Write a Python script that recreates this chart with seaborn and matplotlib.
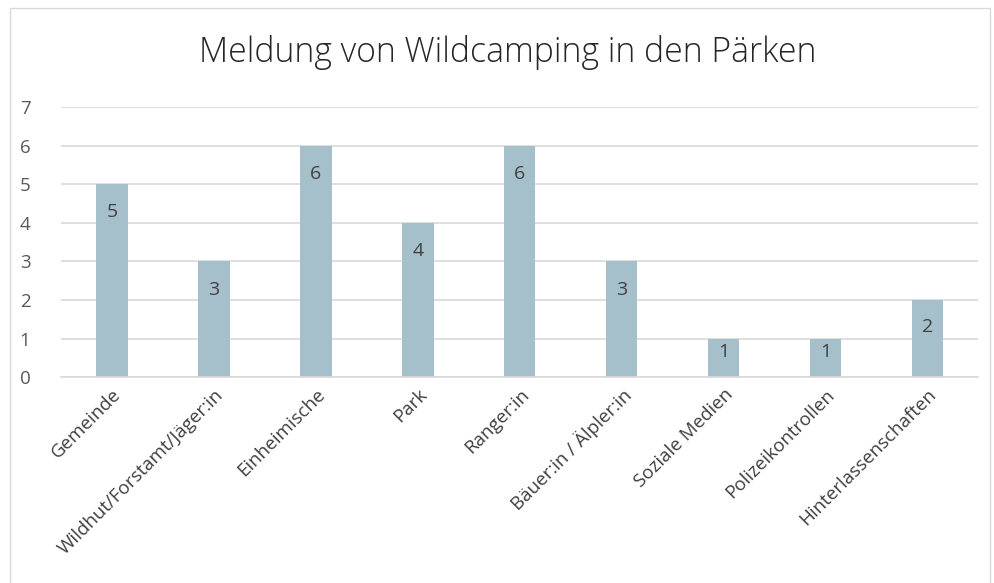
import matplotlib
matplotlib.use("Agg")
import matplotlib.pyplot as plt
import seaborn as sns
import pandas as pd
from matplotlib.patches import Rectangle

# data
quellen = ["Gemeinde", "Wildhut/Forstamt/Jäger:in", "Einheimische", "Park",
           "Ranger:in", "Bäuer:in / Älpler:in", "Soziale Medien",
           "Polizeikontrollen", "Hinterlassenschaften"]
anzahl = [5, 3, 6, 4, 6, 3, 1, 1, 2]
y_ticks = [0, 1, 2, 3, 4, 5, 6, 7]

df = pd.DataFrame({"Quelle": quellen, "Anzahl": anzahl})

sns.set_style("white")
plt.rcParams['font.family'] = ['Open Sans', 'DejaVu Sans']

fig = plt.figure(figsize=(9.95, 5.83), dpi=100)
ax = fig.add_axes([0.0613, 0.353, 0.922, 0.4635])

sns.barplot(data=df, x="Quelle", y="Anzahl", color="#A5C0CA", width=0.31,
            saturation=1, linewidth=0, ax=ax)

ax.set_ylim(0, 7)
ax.set_yticks(y_ticks)
ax.yaxis.grid(True, color="#D9D9D9", linewidth=1.2)
ax.set_axisbelow(True)
for s in ["top", "right", "left"]:
    ax.spines[s].set_visible(False)
ax.spines["bottom"].set_color("#D9D9D9")
ax.spines["bottom"].set_linewidth(1.2)
ax.set_xlabel("")
ax.set_ylabel("")
ax.tick_params(axis="both", length=0, labelsize=13.5, labelcolor="#595959")
ax.tick_params(axis="y", pad=22)
ax.tick_params(axis="x", pad=6)
ax.set_xticks(range(len(quellen)))
ax.set_xticklabels(quellen, rotation=45, ha="right", rotation_mode="anchor",
                   fontsize=13.5, color="#404040")

# value labels inside the bars (inside end, kept inside short bars)
for i, v in enumerate(anzahl):
    ax.text(i, max(v - 0.73, 0.65 * v), str(v), ha="center", va="center",
            fontsize=14, color="#404040")

fig.text(0.51, 0.91, "Meldung von Wildcamping in den Pärken", ha="center",
         va="center", fontsize=24.3, color="#262626", fontweight="light")

# thin frame around the chart area
fig.patches.append(Rectangle((0.010, -0.01), 0.985, 0.996, transform=fig.transFigure,
                             fill=False, edgecolor="#D9D9D9", linewidth=1))

fig.savefig("out.png", dpi=100)
